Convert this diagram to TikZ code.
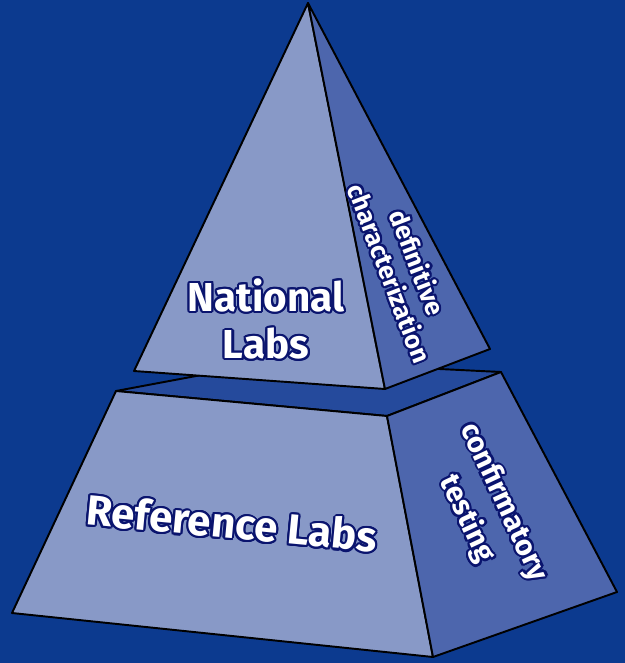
\documentclass[tikz,border=0pt]{standalone}
\usepackage{fontspec}
\setmainfont{Fira Sans}
\usepackage{contour}
\contourlength{1.2pt}
\definecolor{mybackblue}{RGB}{12,58,143}
\definecolor{myfrontblue}{RGB}{136,153,199}
\definecolor{mysideblue}{RGB}{77,102,173}
\definecolor{mytopblue}{RGB}{37,74,156}
\definecolor{mynavy}{RGB}{10,20,110}
\newcommand{\outlined}[1]{\contour{mynavy}{#1}}
\usetikzlibrary{positioning}

\begin{document}
\begin{tikzpicture}[
  x=0.02cm, y=-0.02cm,
  face/.style={
    draw=black,
    line width=1.1pt,
    line join=round
    },
  bigtag/.style={
    text=white,
    inner sep=0pt,
    align=center,
    font=\bfseries\fontsize{23}{27}\selectfont
    },
  sidetag/.style={
    text=white,
    inner sep=0pt,
    align=center,
    font=\bfseries\fontsize{14.5}{17}\selectfont
    }
]

\fill[mybackblue] (0,0) rectangle (625,663);
\useasboundingbox (0,0) rectangle (625,663);

% lower block
\coordinate (lowTL) at (116,391);
\coordinate (lowBack) at (276,361);
\coordinate (lowTR) at (501,372);
\coordinate (lowTF) at (387,416);
\coordinate (lowBL) at (12,613);
\coordinate (lowBF) at (433,657);
\coordinate (lowBR) at (617,592);

% upper pyramid
\coordinate (apex) at (308,3);
\coordinate (upL) at (134,371);
\coordinate (upF) at (385,389);
\coordinate (upR) at (490,349);

\filldraw[face, fill=mytopblue] (lowTL) -- (lowBack) -- (lowTR) -- (lowTF) -- cycle;
\filldraw[face, fill=myfrontblue] (lowTL) -- (lowTF) -- (lowBF) -- (lowBL) -- cycle;
\filldraw[face, fill=mysideblue] (lowTF) -- (lowTR) -- (lowBR) -- (lowBF) -- cycle;

\filldraw[face, fill=myfrontblue] (apex) -- (upL) -- (upF) -- cycle;
\filldraw[face, fill=mysideblue] (apex) -- (upF) -- (upR) -- cycle;

\node[bigtag] (national) at (266,320) {\outlined{National}\\\outlined{Labs}};
\node[bigtag, rotate=-5.4, font=\bfseries\fontsize{24}{28}\selectfont] (reference) at (232,524) {\outlined{Reference Labs}};
\node[sidetag, rotate=-69] (definitive) at (403,268) {\outlined{definitive}\\\outlined{characterization}};
\node[sidetag, rotate=-65, font=\bfseries\fontsize{16.5}{23}\selectfont] (confirmatory) at (484,511) {\outlined{confirmatory}\\\outlined{testing}};
\end{tikzpicture}
\end{document}
